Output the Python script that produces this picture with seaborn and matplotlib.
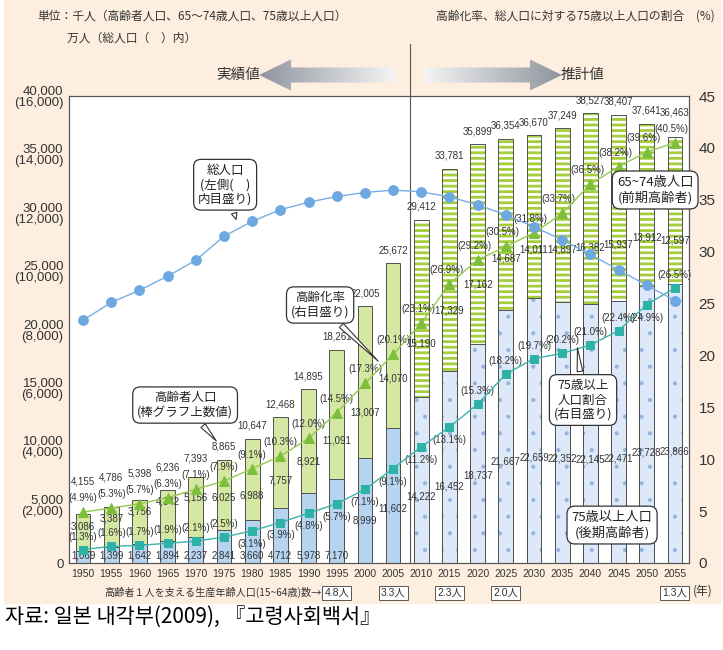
import numpy as np
import pandas as pd
import seaborn as sns
import matplotlib.pyplot as plt
from matplotlib.patches import Rectangle, FancyArrow
from matplotlib.colors import LinearSegmentedColormap

# data (千人 / 万人 / %)
years = [1950, 1955, 1960, 1965, 1970, 1975, 1980, 1985, 1990, 1995, 2000,
         2005, 2010, 2015, 2020, 2025, 2030, 2035, 2040, 2045, 2050, 2055]
elderly = [4155, 4786, 5398, 6236, 7393, 8865, 10647, 12468, 14895, 18261, 22005,
           25672, 29412, 33781, 35899, 36354, 36670, 37249, 38527, 38407, 37641, 36463]
age_65_74 = [3086, 3387, 3756, 4342, 5156, 6025, 6988, 7757, 8921, 11091, 13007,
             14070, 15190, 17329, 17162, 14687, 14011, 14897, 16382, 15937, 13912, 12597]
age_75 = [1069, 1399, 1642, 1894, 2237, 2841, 3660, 4712, 5978, 7170, 8999,
          11602, 14222, 16452, 18737, 21667, 22659, 22352, 22145, 22471, 23728, 23866]
total_pop = [8320, 8928, 9342, 9828, 10372, 11194, 11706, 12105, 12361, 12557, 12693,
             12777, 12718, 12543, 12274, 11927, 11522, 11068, 10570, 10044, 9515, 8993]
aging_rate = [4.9, 5.3, 5.7, 6.3, 7.1, 7.9, 9.1, 10.3, 12.0, 14.5, 17.3,
              20.1, 23.1, 26.9, 29.2, 30.5, 31.8, 33.7, 36.5, 38.2, 39.6, 40.5]
ratio_75 = [1.3, 1.6, 1.7, 1.9, 2.1, 2.5, 3.1, 3.9, 4.8, 5.7, 7.1,
            9.1, 11.2, 13.1, 15.3, 18.2, 19.7, 20.2, 21.0, 22.4, 24.9, 26.5]
support_years = [1995, 2005, 2015, 2025, 2055]
support_txt = ['4.8人', '3.3人', '2.3人', '2.0人', '1.3人']

left_ticks = [0, 5000, 10000, 15000, 20000, 25000, 30000, 35000, 40000]
left_labels = ['0', '5,000\n(2,000)', '10,000\n(4,000)', '15,000\n(6,000)', '20,000\n(8,000)',
               '25,000\n(10,000)', '30,000\n(12,000)', '35,000\n(14,000)', '40,000\n(16,000)']
right_ticks = [0, 5, 10, 15, 20, 25, 30, 35, 40, 45]

# which side of the marker the 75+ ratio label sits (1 above, -1 below)
r75_side = [1, 1, 1, 1, 1, 1, -1, -1, -1, -1, -1, -1, -1, -1, 1, 1, 1, 1, 1, 1, -1, 1]

sns.set_theme(style='white')
plt.rcParams['font.family'] = ['Noto Sans CJK JP', 'DejaVu Sans']

df = pd.DataFrame({'year': years, 'elderly': elderly, 'a6574': age_65_74, 'a75': age_75,
                   'pop': total_pop, 'rate': aging_rate, 'r75': ratio_75})
df['i'] = np.arange(len(df))
n = len(df)

fig = plt.figure(figsize=(7.23, 6.5), dpi=100)
fig.patch.set_facecolor('white')

# background layer in pixel coords
bg = fig.add_axes([0, 0, 1, 1])
bg.axis('off')
bg.add_patch(Rectangle((4, 0), 716, 603, color='#fdeedf', zorder=0))

ax = fig.add_axes([69 / 723, 1 - 563 / 650, 620 / 723, 467 / 650])
ax.set_facecolor('white')

plt.rcParams['hatch.linewidth'] = 2.0
sns.barplot(data=df, x='year', y='elderly', color='#d5e8a3', width=0.52, saturation=1,
            edgecolor='#505050', linewidth=0.7, errorbar=None, ax=ax)
plt.rcParams['hatch.linewidth'] = 0.5
sns.barplot(data=df, x='year', y='a75', color='#b6d3f0', width=0.52, saturation=1,
            edgecolor='#505050', linewidth=0.7, errorbar=None, ax=ax)

bars = list(ax.patches)
for k in range(n):
    if years[k] > 2005:
        g = bars[k]
        b = bars[n + k]
        g.set_facecolor('white')
        g.set_edgecolor('#a3cd3a')
        g.set_hatch('---')
        g.set_linewidth(0)
        b.set_facecolor('#dde9f8')
        b.set_edgecolor('#92b3dc')
        b.set_hatch('.')
        b.set_linewidth(0)
        if hasattr(g, 'set_hatch_linewidth'):
            g.set_hatch_linewidth(2.0)
            b.set_hatch_linewidth(0.5)
        for p in (g, b):
            ax.add_patch(Rectangle((p.get_x(), p.get_y()), p.get_width(), p.get_height(),
                                   fill=False, ec='#505050', lw=0.7, zorder=p.get_zorder() + 0.1))

ax.axvline(11.6, color='#555555', lw=0.8)

axr = ax.twinx()
axp = ax.twinx()
sns.lineplot(x=df['i'], y=df['rate'], ax=axr, color='#95c850', lw=1.0, marker='^',
             markersize=7, markerfacecolor='#7dbf3c', markeredgecolor='#7dbf3c')
sns.lineplot(x=df['i'], y=df['r75'], ax=axr, color='#3ab5ad', lw=1.0, marker='s',
             markersize=6, markerfacecolor='#2fb2a6', markeredgecolor='#2fb2a6')
sns.lineplot(x=df['i'], y=df['pop'], ax=axp, color='#77aee3', lw=1.0, marker='o',
             markersize=7, markerfacecolor='#6ea8e0', markeredgecolor='#6ea8e0')

ax.set_xlim(-0.5, 21.5)
ax.set_ylim(0, 40000)
axr.set_ylim(0, 45)
axp.set_ylim(0, 16000)
axp.axis('off')
for a in (ax, axr):
    a.set_xlabel('')
    a.set_ylabel('')
    for s in a.spines.values():
        s.set_color('#555555')
        s.set_linewidth(0.8)

num = ['Liberation Sans', 'DejaVu Sans']
ax.set_yticks(left_ticks, left_labels, fontsize=9.5, color='#333333', family=num,
              linespacing=0.95)
ax.set_xticks(df['i'], [str(y) for y in years], fontsize=7.5, color='#333333', family=num)
axr.set_yticks(right_ticks, [str(t) for t in right_ticks], fontsize=11, color='#333333', family=num)
ax.tick_params(length=0, pad=4)
axr.tick_params(length=0, pad=7)

k45 = 40000 / 45
lab = dict(family=num, fontsize=7, color='#333333', ha='center', va='center')
for k in range(n):
    top = max(elderly[k] + 1100, aging_rate[k] * k45 + 2600)
    ax.text(k, top, f'{elderly[k]:,}', **lab)
    dx = -0.12 if years[k] > 2005 else 0
    ax.text(k + dx, aging_rate[k] * k45 + 1200, f'({aging_rate[k]:.1f}%)', **lab)
    mid = max(age_75[k] + 0.3 * age_65_74[k], min(elderly[k] - 1000, 5600))
    ax.text(k, mid, f'{age_65_74[k]:,}', **lab)
    low = 650 if age_75[k] < 8000 else 0.4 * age_75[k]
    ax.text(k, low, f'{age_75[k]:,}', **lab)
    ax.text(k, (ratio_75[k] + 1.25 * r75_side[k]) * k45, f'({ratio_75[k]:.1f}%)', **lab)

# callouts
box = dict(boxstyle='round,pad=0.35,rounding_size=0.6', fc='white', ec='#333333', lw=0.9)
tail = dict(arrowstyle='wedge,tail_width=0.45', fc='white', ec='#333333', lw=0.8)
callouts = [
    ('総人口\n(左側(　)\n内目盛り)', (5.46, 29200), (5.04, 32400)),
    ('高齢化率\n(右目盛り)', (10.54, 17130), (8.41, 22100)),
    ('高齢者人口\n(棒グラフ上数値)', (4.79, 10280), (3.62, 13530)),
    ('75歳以上\n人口割合\n(右目盛り)', (17.53, 18670), (17.74, 13960)),
]
for txt, tip, pos in callouts:
    axp.annotate(txt, xy=tip, xytext=pos, xycoords=ax.transData, textcoords=ax.transData,
                 ha='center', va='center', fontsize=9, color='#222222', linespacing=1.15,
                 bbox=box, arrowprops=tail)
axp.text(20.3, 31950, '65~74歳人口\n(前期高齢者)', transform=ax.transData, ha='center',
         va='center', fontsize=9.5, color='#222222', bbox=box, linespacing=1.2)
axp.text(18.77, 3250, '75歳以上人口\n(後期高齢者)', transform=ax.transData, ha='center',
         va='center', fontsize=9.5, color='#222222', bbox=box, linespacing=1.2)

# header text and arrows
bg.text(37, 16, '単位：千人（高齢者人口、65～74歳人口、75歳以上人口）', fontsize=8.5,
        color='#333333', va='center')
bg.text(67, 38, '万人（総人口（　）内）', fontsize=8.5, color='#333333', va='center')
bg.text(715, 16, '高齢化率、総人口に対する75歳以上人口の割合　(%)', fontsize=8.5,
        color='#333333', va='center', ha='right')
bg.plot([410, 410], [44, 97], color='#555555', lw=0.8)
bg.text(238, 75, '実績値', fontsize=10.5, color='#333333', ha='center', va='center')
bg.text(583, 75, '推計値', fontsize=10.5, color='#333333', ha='center', va='center')

grad = LinearSegmentedColormap.from_list('g', ['#8f959e', '#f4f4f4'])
ramp = np.linspace(0, 1, 200).reshape(1, -1)
left_arr = FancyArrow(395, 75, -136, 0, width=15, head_width=31, head_length=32,
                      length_includes_head=True, fc='none', ec='none')
right_arr = FancyArrow(424, 75, 138, 0, width=15, head_width=31, head_length=32,
                       length_includes_head=True, fc='none', ec='none')
for arr, ext, r in [(left_arr, (259, 395, 92, 58), ramp), (right_arr, (424, 562, 92, 58), ramp[:, ::-1])]:
    bg.add_patch(arr)
    im = bg.imshow(r, cmap=grad, extent=ext, aspect='auto', zorder=1)
    im.set_clip_path(arr)

# bottom row
xt = ax.get_xaxis_transform()
ax.text(8.45, -0.064, '高齢者１人を支える生産年齢人口(15~64歳)数→', transform=xt,
        ha='right', va='center', fontsize=7.3, color='#333333')
for yr, t in zip(support_years, support_txt):
    ax.text(years.index(yr), -0.064, t, transform=xt, ha='center', va='center', fontsize=7.5,
            color='#333333', family=num + ['Noto Sans CJK JP'],
            bbox=dict(boxstyle='square,pad=0.2', fc='white', ec='#555555', lw=0.7))
bg.text(703, 591, '(年)', fontsize=8.5, color='#333333', ha='center', va='center')

bg.text(5, 617, '자료: 일본 내각부(2009), 『고령사회백서』', fontsize=15,
        family=['Noto Sans CJK KR', 'DejaVu Sans'], color='black', va='center')

bg.set_xlim(0, 723)
bg.set_ylim(650, 0)

fig.savefig('out.png', dpi=100, facecolor=fig.get_facecolor())
